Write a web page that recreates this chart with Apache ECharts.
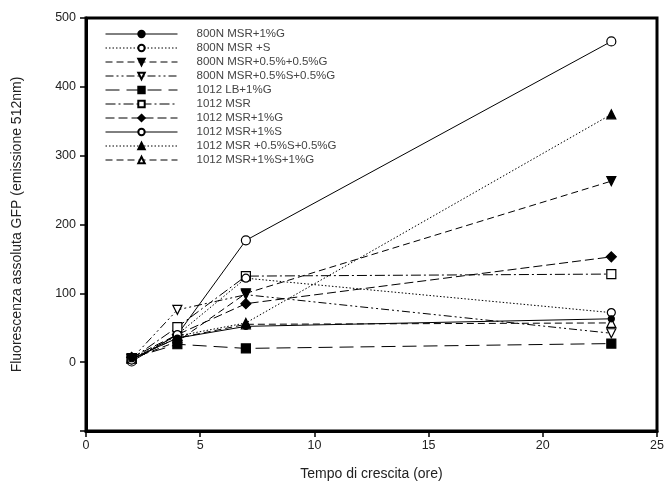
<!DOCTYPE html>
<html>
<head>
<meta charset="utf-8">
<script src="https://cdn.jsdelivr.net/npm/echarts@6/dist/echarts.min.js"></script>
<style>html,body{margin:0;padding:0;background:#fff}#c{width:668px;height:486px}</style>
</head>
<body>
<div id="c"></div>
<script>
const xValues = [2, 4, 7, 23];
const seriesNames = [
  '800N MSR+1%G',
  '800N MSR +S',
  '800N MSR+0.5%+0.5%G',
  '800N MSR+0.5%S+0.5%G',
  '1012 LB+1%G',
  '1012 MSR',
  '1012 MSR+1%G',
  '1012 MSR+1%S',
  '1012 MSR +0.5%S+0.5%G',
  '1012 MSR+1%S+1%G'
];
const s800G = [5, 35, 52, 63];
const s800S = [3, 40, 122, 72];
const s800half = [5, 30, 100, 263];
const s800SG = [5, 76, 98, 42];
const s1012LB = [6, 26, 20, 27];
const s1012MSR = [5, 51, 125, 128];
const s1012G = [7, 40, 85, 153];
const s1012S = [1, 40, 177, 466];
const s1012halfSG = [6, 38, 57, 360];
const s1012SG = [5, 35, 55, 57];
const xTicks = [0, 5, 10, 15, 20, 25];
const yTicks = [0, 100, 200, 300, 400, 500];

const allData = [s800G, s800S, s800half, s800SG, s1012LB, s1012MSR, s1012G, s1012S, s1012halfSG, s1012SG];
const styles = [
  {dash: 'solid', sym: 'circle', fill: true, size: 6},
  {dash: [1.5, 2], sym: 'circle', fill: false, size: 8},
  {dash: [7, 4], sym: 'triangle', rot: 180, fill: true, size: 9},
  {dash: [8, 3, 2, 3, 2, 3], sym: 'triangle', rot: 180, fill: false, size: 9},
  {dash: [14, 7], sym: 'rect', fill: true, size: 9},
  {dash: [10, 3, 2, 3], sym: 'rect', fill: false, size: 9},
  {dash: [9, 4], sym: 'diamond', fill: true, size: 10},
  {dash: 'solid', sym: 'circle', fill: false, size: 9},
  {dash: [1.5, 2], sym: 'triangle', fill: true, size: 9},
  {dash: [7, 4], sym: 'triangle', fill: false, size: 9}
];

const series = seriesNames.map((name, i) => {
  const st = styles[i];
  return {
    name: name,
    type: 'line',
    data: xValues.map((x, j) => [x, allData[i][j]]),
    symbol: st.sym,
    symbolRotate: st.rot || 0,
    symbolSize: st.size,
    showAllSymbol: true,
    z: 10 - i,
    lineStyle: {color: '#000', width: 1, type: st.dash},
    itemStyle: {color: st.fill ? '#000' : '#fff', borderColor: '#000', borderWidth: 1.2},
    emphasis: {disabled: true},
    animation: false
  };
});

const chart = echarts.init(document.getElementById('c'), null, {renderer: 'canvas'});
chart.setOption({
  animation: false,
  backgroundColor: '#fff',
  textStyle: {fontFamily: 'Liberation Sans, Arial, sans-serif'},
  grid: {left: 86, right: 11, top: 18, bottom: 55, show: true, borderColor: '#000', borderWidth: 3, backgroundColor: 'transparent'},
  legend: {
    orient: 'vertical',
    left: 100,
    top: 23,
    itemWidth: 72,
    itemHeight: 8,
    itemGap: 2,
    data: seriesNames,
    lineStyle: {width: 1},
    textStyle: {fontSize: 11.5, color: '#444', padding: [0, 0, 0, 14], fontFamily: 'Liberation Sans, Arial, sans-serif'},
    selectedMode: false
  },
  xAxis: {
    type: 'value',
    min: 0, max: 25, interval: 5,
    name: 'Tempo di crescita (ore)',
    nameLocation: 'middle',
    nameGap: 36,
    nameTextStyle: {fontSize: 14, color: '#222'},
    axisLine: {show: true, onZero: false, lineStyle: {color: '#000', width: 3}},
    axisTick: {show: true, inside: false, length: 6, lineStyle: {color: '#000', width: 1.5}},
    axisLabel: {fontSize: 12.5, color: '#222', margin: 8,
      formatter: v => xTicks.includes(v) ? String(v) : ''},
    splitLine: {show: false}
  },
  yAxis: {
    type: 'value',
    min: -100, max: 500, interval: 100,
    name: 'Fluorescenza assoluta GFP (emissione 512nm)',
    nameLocation: 'middle',
    nameGap: 62,
    nameTextStyle: {fontSize: 14, color: '#222'},
    axisLine: {show: true, onZero: false, lineStyle: {color: '#000', width: 3}},
    axisTick: {show: true, inside: false, length: 6, lineStyle: {color: '#000', width: 1.5}},
    axisLabel: {fontSize: 12.5, color: '#222', margin: 10,
      formatter: v => yTicks.includes(v) ? String(v) : ''},
    splitLine: {show: false}
  },
  series: series
});
</script>
</body>
</html>
